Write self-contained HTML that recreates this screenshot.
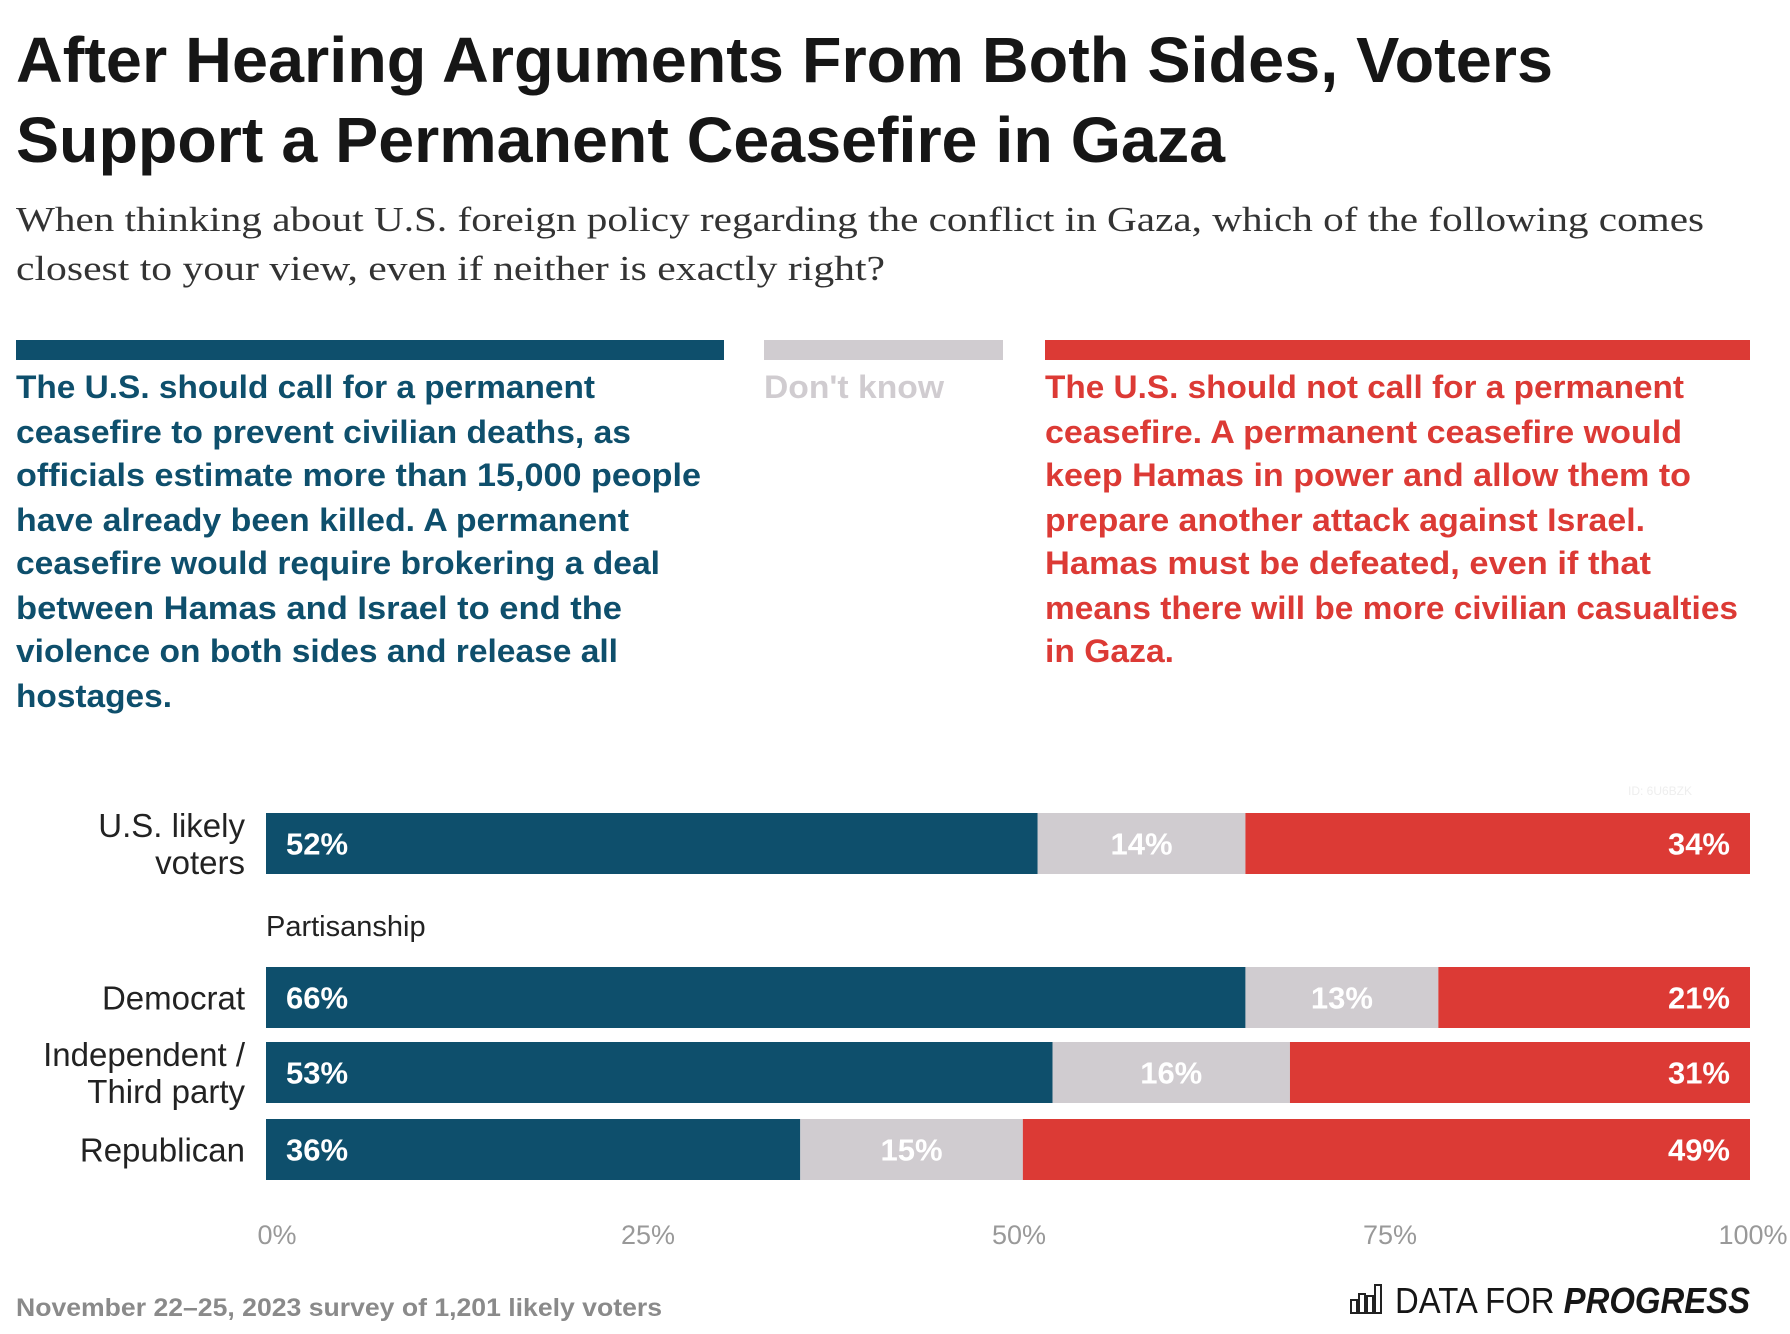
<!DOCTYPE html>
<html><head><meta charset="utf-8"><style>
html,body{margin:0;padding:0;background:#fff;}
svg{display:block;font-family:"Liberation Sans",sans-serif;}
</style></head><body>
<svg width="1790" height="1334" viewBox="0 0 1790 1334">
<g font-weight="bold" font-size="64" fill="#161616">
<text x="16" y="82" textLength="1537" lengthAdjust="spacingAndGlyphs">After Hearing Arguments From Both Sides, Voters</text>
<text x="16" y="162" textLength="1209" lengthAdjust="spacingAndGlyphs">Support a Permanent Ceasefire in Gaza</text>
</g>
<g font-family="Liberation Serif, serif" font-size="35" fill="#333">
<text x="16" y="231" textLength="1688" lengthAdjust="spacingAndGlyphs">When thinking about U.S. foreign policy regarding the conflict in Gaza, which of the following comes</text>
<text x="16" y="280" textLength="869" lengthAdjust="spacingAndGlyphs">closest to your view, even if neither is exactly right?</text>
</g>
<rect x="16" y="340" width="708" height="20" fill="#0e4f6c"/>
<rect x="764" y="340" width="239" height="20" fill="#d0ccd0"/>
<rect x="1045" y="340" width="705" height="20" fill="#dc3a35"/>
<g font-weight="bold" font-size="32" fill="#0e4f6c">
<text x="16" y="398" textLength="579" lengthAdjust="spacingAndGlyphs">The U.S. should call for a permanent</text>
<text x="16" y="443" textLength="615" lengthAdjust="spacingAndGlyphs">ceasefire to prevent civilian deaths, as</text>
<text x="16" y="486" textLength="685" lengthAdjust="spacingAndGlyphs">officials estimate more than 15,000 people</text>
<text x="16" y="531" textLength="613" lengthAdjust="spacingAndGlyphs">have already been killed. A permanent</text>
<text x="16" y="574" textLength="644" lengthAdjust="spacingAndGlyphs">ceasefire would require brokering a deal</text>
<text x="16" y="619" textLength="606" lengthAdjust="spacingAndGlyphs">between Hamas and Israel to end the</text>
<text x="16" y="662" textLength="602" lengthAdjust="spacingAndGlyphs">violence on both sides and release all</text>
<text x="16" y="707" textLength="156" lengthAdjust="spacingAndGlyphs">hostages.</text>
</g>
<text x="764" y="398" font-weight="bold" font-size="32" fill="#d0ccd0" textLength="180" lengthAdjust="spacingAndGlyphs">Don't know</text>
<g font-weight="bold" font-size="32" fill="#dc3a35">
<text x="1045" y="398" textLength="639" lengthAdjust="spacingAndGlyphs">The U.S. should not call for a permanent</text>
<text x="1045" y="443" textLength="637" lengthAdjust="spacingAndGlyphs">ceasefire. A permanent ceasefire would</text>
<text x="1045" y="486" textLength="646" lengthAdjust="spacingAndGlyphs">keep Hamas in power and allow them to</text>
<text x="1045" y="531" textLength="600" lengthAdjust="spacingAndGlyphs">prepare another attack against Israel.</text>
<text x="1045" y="574" textLength="606" lengthAdjust="spacingAndGlyphs">Hamas must be defeated, even if that</text>
<text x="1045" y="619" textLength="693" lengthAdjust="spacingAndGlyphs">means there will be more civilian casualties</text>
<text x="1045" y="662" textLength="129" lengthAdjust="spacingAndGlyphs">in Gaza.</text>
</g>
<text x="1628" y="795" font-size="12" fill="#eeeeee">ID: 6U6BZK</text>
<text x="266" y="936" font-size="29" fill="#222">Partisanship</text>
<g id="bars"></g>
<g id="axis"></g>
<text x="16" y="1316" font-size="25" font-weight="bold" fill="#8a8a8a" textLength="646" lengthAdjust="spacingAndGlyphs">November 22–25, 2023 survey of 1,201 likely voters</text>
<g>
<g fill="none" stroke="#222" stroke-width="2">
<rect x="1351" y="1300" width="6" height="13"/><rect x="1359" y="1294" width="6" height="19"/><rect x="1367" y="1296" width="6" height="17"/><rect x="1375" y="1285" width="6" height="28"/>
</g>
<text x="1395" y="1313" font-size="36" fill="#161616" textLength="355" lengthAdjust="spacingAndGlyphs">DATA FOR <tspan font-weight="bold" font-style="italic">PROGRESS</tspan></text>
</g>
</svg>
<script>
const categories = ["U.S. likely voters","Democrat","Independent / Third party","Republican"];
const supportVals = [52,66,53,36];
const dontKnowVals = [14,13,16,15];
const opposeVals = [34,21,31,49];
const tickVals = [0,25,50,75,100];
const tickLabels = ["0%","25%","50%","75%","100%"];
const NS="http://www.w3.org/2000/svg";
const x0=266,x1=1750;
function xs(v){return x0+(x1-x0)*v/100;}
const rowTop=[813,967,1042,1119], barH=61;
const labelLines=[["U.S. likely","voters"],["Democrat"],["Independent /","Third party"],["Republican"]];
const colors=["#0e4f6c","#d0ccd0","#dc3a35"];
const bars=document.getElementById('bars');
categories.forEach((c,i)=>{
  const vals=[supportVals[i],dontKnowVals[i],opposeVals[i]];
  const tot=vals[0]+vals[1]+vals[2];
  let acc=0;
  vals.forEach((v,k)=>{
    const a=acc/tot*100, b=(acc+v)/tot*100; acc+=v;
    const r=document.createElementNS(NS,'rect');
    
    
    r.setAttribute('x',xs(a));r.setAttribute('y',rowTop[i]);
    r.setAttribute('width',xs(b)-xs(a));r.setAttribute('height',barH);
    r.setAttribute('fill',colors[k]);bars.appendChild(r);
    const t=document.createElementNS(NS,'text');
    
    
    let tx, anchor;
    if(k===0){tx=xs(a)+20;anchor='start';}
    else if(k===1){tx=(xs(a)+xs(b))/2;anchor='middle';}
    else{tx=xs(b)-20;anchor='end';}
    t.setAttribute('x',tx);t.setAttribute('y',rowTop[i]+barH/2+11);
    t.setAttribute('text-anchor',anchor);t.setAttribute('font-size','31');
    t.setAttribute('font-weight','bold');t.setAttribute('fill','#fff');
    t.textContent=v+'%';bars.appendChild(t);
  });
  const lines=labelLines[i];
  const mid=rowTop[i]+barH/2;
  lines.forEach((ln,j)=>{
    const t=document.createElementNS(NS,'text');
    
    
    t.setAttribute('x',245);
    t.setAttribute('y',mid+12+(j-(lines.length-1)/2)*37);
    t.setAttribute('text-anchor','end');t.setAttribute('font-size','33');t.setAttribute('fill','#222');
    t.textContent=ln;bars.appendChild(t);
  });
});
const axis=document.getElementById('axis');
tickVals.forEach((v,i)=>{
  const t=document.createElementNS(NS,'text');
  
  
  t.setAttribute('x',xs(v)+ (v===100?3:11));t.setAttribute('y',1244);
  t.setAttribute('text-anchor','middle');t.setAttribute('font-size','27');t.setAttribute('fill','#999');
  t.textContent=tickLabels[i];axis.appendChild(t);
});
</script>
</body></html>
